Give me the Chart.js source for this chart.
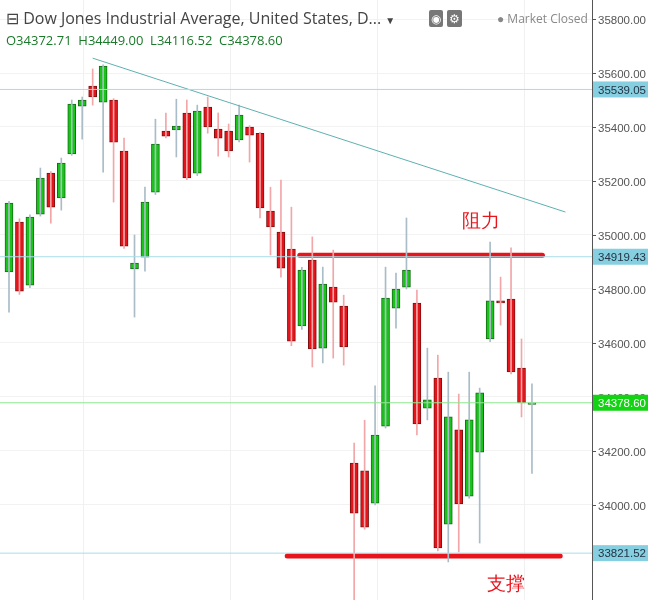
<!DOCTYPE html>
<html><head><meta charset="utf-8">
<script src="https://cdn.jsdelivr.net/npm/chart.js@4/dist/chart.umd.min.js"></script>
<style>
body{margin:0;background:#fff;font-family:"Open Sans",sans-serif}
#w{position:relative;width:648px;height:600px}
.t{position:absolute;white-space:nowrap}
</style></head><body>
<div id="w"><canvas id="c" width="648" height="600"></canvas>
<div class="t" style="left:6px;top:7px;font-size:16px;color:#444">&#8863; Dow Jones Industrial Average, United States, D... <span style="font-size:10px">&#9660;</span></div>
<div class="t" style="left:6px;top:31px;font-size:13px;color:#1a7a2a">O34372.71&nbsp; H34449.00&nbsp; L34116.52&nbsp; C34378.60</div>
<div class="t" style="left:429px;top:10px;font-size:12px;color:#fff;background:#777;padding:0 2px;border-radius:2px">&#9673;</div>
<div class="t" style="left:447px;top:10px;font-size:12px;color:#fff;background:#777;padding:0 2px;border-radius:2px">&#9881;</div>
<div class="t" style="left:497px;top:10px;font-size:12px;color:#888">&#9679; Market Closed</div>
<div class="t" style="left:462px;top:207px;font-size:19px;color:#e8141c">阻力</div>
<div class="t" style="left:487px;top:570px;font-size:19px;color:#e8141c">支撑</div>
</div>
<script>
const opens =[34863,35048,34814,35077,35229,35137,35300,35477,35552,35492,35500,35311,34874,34918,35159,35385,35389,35452,35229,35474,35392,35385,35352,35400,35377,35089,35011,34948,34663,34907,34581,34807,34737,34155,34126,34007,34292,34729,34807,34748,34359,34470,33929,34278,34033,34196,34615,34756,34763,34507,34372.71];
const closes=[35118,34792,35066,35211,35103,35266,35485,35500,35511,35626,35344,34959,34896,35122,35337,35366,35403,35211,35459,35400,35359,35311,35444,35370,35100,35030,34877,34607,34870,34578,34818,34751,34585,33970,33918,34259,34766,34800,34870,34300,34389,33841,34326,34004,34315,34415,34756,34748,34493,34378,34378.60];
const highs =[35125,35060,35075,35248,35235,35285,35500,35511,35615,35630,35505,35359,35000,35177,35429,35452,35503,35500,35481,35511,35452,35411,35481,35405,35380,35177,35203,35103,34880,34993,34881,34944,34777,34229,34314,34441,34881,34859,35063,34796,34581,34555,34492,34411,34492,34433,34974,34844,34952,34615,34449.00];
const lows  =[34714,34780,34805,35070,35044,35092,35295,35355,35481,35233,35122,34950,34696,34866,35150,35360,35289,35205,35220,35377,35292,35289,35345,35270,35063,34926,34844,34590,34650,34511,34526,34544,34518,33648,33910,34000,34285,34655,34800,34259,34315,33830,33789,33826,34025,33859,34605,34666,34485,34326,34116.52];
const priceMarks=[35539.05,34919.43,34378.60,33821.52];
const trendX=[8.0,53.2], trendY=[35655,35085];
const resX=[27.8,51.0], resY=34925;
const supX=[26.6,52.7], supY=33811;
const yTicks=[34000,34200,34400,34600,34800,35000,35200,35400,35600,35800];
const xGrid=[7.1,21.1,35.2,49.2];
const XMIN=-0.86, XMAX=55.74;

const up=opens.map((o,i)=>closes[i]>=o);
const wick=opens.map((o,i)=>({x:i,y:[lows[i],highs[i]]}));
const body=opens.map((o,i)=>({x:i,y:[o,closes[i]]}));
const hl=(v,c)=>({type:'line',data:[{x:XMIN,y:v},{x:XMAX,y:v}],borderColor:c,borderWidth:1,pointRadius:0});
const axisPlugin={id:'ax',
 beforeDatasetsDraw(ch){
  const ctx=ch.ctx,xs=ch.scales.x,a=ch.chartArea;
  ctx.save();ctx.strokeStyle='#f0f0f0';ctx.lineWidth=1;
  xGrid.forEach(v=>{const x=Math.round(xs.getPixelForValue(v))+0.5;ctx.beginPath();ctx.moveTo(x,a.top);ctx.lineTo(x,a.bottom);ctx.stroke();});
  ctx.restore();
 },
 afterDraw(ch){
 const ctx=ch.ctx,ys=ch.scales.y,a=ch.chartArea;
 ctx.save();
 ctx.strokeStyle='#555';ctx.lineWidth=1;
 ctx.beginPath();ctx.moveTo(a.right+0.5,0);ctx.lineTo(a.right+0.5,600);ctx.stroke();
 ctx.font='11.5px "Liberation Sans"';ctx.textBaseline='middle';ctx.fillStyle='#555';
 yTicks.forEach(v=>{const y=Math.round(ys.getPixelForValue(v))+0.5;
  ctx.beginPath();ctx.moveTo(a.right,y);ctx.lineTo(a.right+4,y);ctx.stroke();
  ctx.fillText(v.toFixed(2),a.right+6,y+1);});
 priceMarks.forEach(v=>{const y=ys.getPixelForValue(v);
  ctx.fillStyle=v===34378.60?'#12d412':'#86cfe0';ctx.fillRect(a.right+1,y-8,56,16);
  ctx.fillStyle=v===34378.60?'#fff':'#234';
  ctx.fillText(v.toFixed(2),a.right+6,y+1);});
 ctx.restore();
}};
new Chart(document.getElementById('c'),{
 type:'bar',
 data:{datasets:[
  hl(35539.05,'#a8dde8'),hl(34919.43,'#a8dde8'),hl(33821.52,'#a8dde8'),hl(34378.60,'#8fe88f'),
  {type:'line',data:[{x:trendX[0],y:trendY[0]},{x:trendX[1],y:trendY[1]}],borderColor:'#5fb0b0',borderWidth:1,pointRadius:0},
  {data:wick,backgroundColor:up.map(u=>u?'#a9bcc8':'#f2a6a8'),barThickness:1,grouped:false},
  {data:body,backgroundColor:up.map(u=>u?'#19c419':'#e5141b'),borderColor:up.map(u=>u?'#176b17':'#7a1010'),borderWidth:1,borderSkipped:false,barThickness:8,grouped:false},
  {type:'line',data:[{x:resX[0],y:resY},{x:resX[1],y:resY}],borderColor:'#e8141c',borderWidth:5,borderCapStyle:'round',pointRadius:0},
  {type:'line',data:[{x:supX[0],y:supY},{x:supX[1],y:supY}],borderColor:'#e8141c',borderWidth:5,borderCapStyle:'round',pointRadius:0}
 ]},
 options:{responsive:false,animation:false,layout:{padding:0},
  plugins:{legend:{display:false},tooltip:{enabled:false}},
  scales:{
   x:{type:'linear',min:XMIN,max:XMAX,offset:false,display:false},
   y:{position:'right',min:33648,max:35870.4,
      afterBuildTicks:s=>{s.ticks=yTicks.map(v=>({value:v}));},
      afterFit:s=>{s.width=56;},
      grid:{color:'#f2f2f2',drawTicks:false},
      border:{display:false},
      ticks:{display:false}}
  }},
 plugins:[axisPlugin]
});
</script></body></html>
